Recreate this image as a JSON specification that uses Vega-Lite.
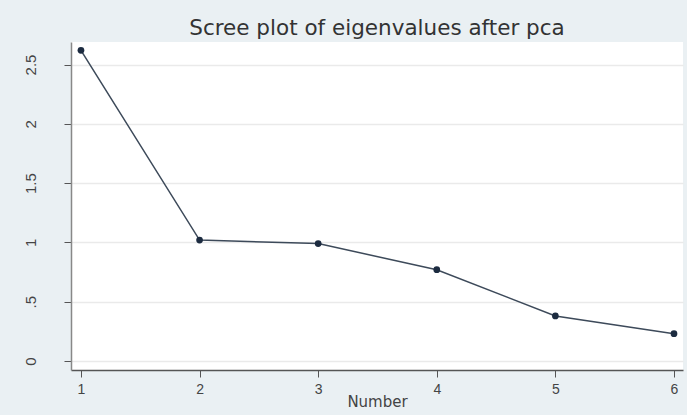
{
  "$schema": "https://vega.github.io/schema/vega-lite/v6.json",
  "width": 612,
  "height": 328,
  "autosize": {"type": "none"},
  "padding": {"left": 71, "top": 42, "right": 4, "bottom": 45},
  "background": "#eaf0f3",
  "title": {
    "text": "Scree plot of eigenvalues after pca",
    "fontSize": 21.5,
    "font": "DejaVu Sans",
    "fontWeight": "normal",
    "color": "#333333",
    "anchor": "middle",
    "baseline": "alphabetic",
    "offset": 6,
    "dy": 20
  },
  "config": {
    "view": {"fill": "white", "stroke": null},
    "font": "Liberation Sans"
  },
  "data": {
    "values": [
      {"Number": 1, "Eigenvalue": 2.62},
      {"Number": 2, "Eigenvalue": 1.02},
      {"Number": 3, "Eigenvalue": 0.99},
      {"Number": 4, "Eigenvalue": 0.77},
      {"Number": 5, "Eigenvalue": 0.38},
      {"Number": 6, "Eigenvalue": 0.23}
    ]
  },
  "encoding": {
    "x": {
      "field": "Number",
      "type": "quantitative",
      "scale": {"domain": [0.916, 6.076], "nice": false, "zero": false},
      "axis": {
        "values": [1, 2, 3, 4, 5, 6],
        "grid": false,
        "title": "Number",
        "titleFont": "DejaVu Sans",
        "titleFontSize": 15,
        "titleFontWeight": "normal",
        "titleColor": "#444444",
        "titlePadding": -2,
        "labelFontSize": 14,
        "labelColor": "#444444",
        "labelPadding": 5,
        "tickSize": 7,
        "tickColor": "#555555",
        "domainColor": "#555555",
        "domainWidth": 1.5
      }
    },
    "y": {
      "field": "Eigenvalue",
      "type": "quantitative",
      "scale": {"domain": [-0.076, 2.69], "nice": false, "zero": false},
      "axis": {
        "values": [0, 0.5, 1, 1.5, 2, 2.5],
        "title": null,
        "grid": true,
        "gridColor": "#eaeaea",
        "gridWidth": 1.5,
        "labelExpr": "datum.value == 0.5 ? '.5' : format(datum.value, '~g')",
        "labelAngle": 270,
        "labelAlign": "center",
        "labelBaseline": "bottom",
        "labelFontSize": 15,
        "labelColor": "#444444",
        "labelPadding": 26,
        "tickSize": 7,
        "tickColor": "#555555",
        "domainColor": "#888888",
        "domainWidth": 1.5
      }
    }
  },
  "layer": [
    {"mark": {"type": "line", "color": "#3d4a5a", "strokeWidth": 1.5}},
    {"mark": {"type": "point", "filled": true, "color": "#1c2b40", "size": 45, "opacity": 1}}
  ]
}
